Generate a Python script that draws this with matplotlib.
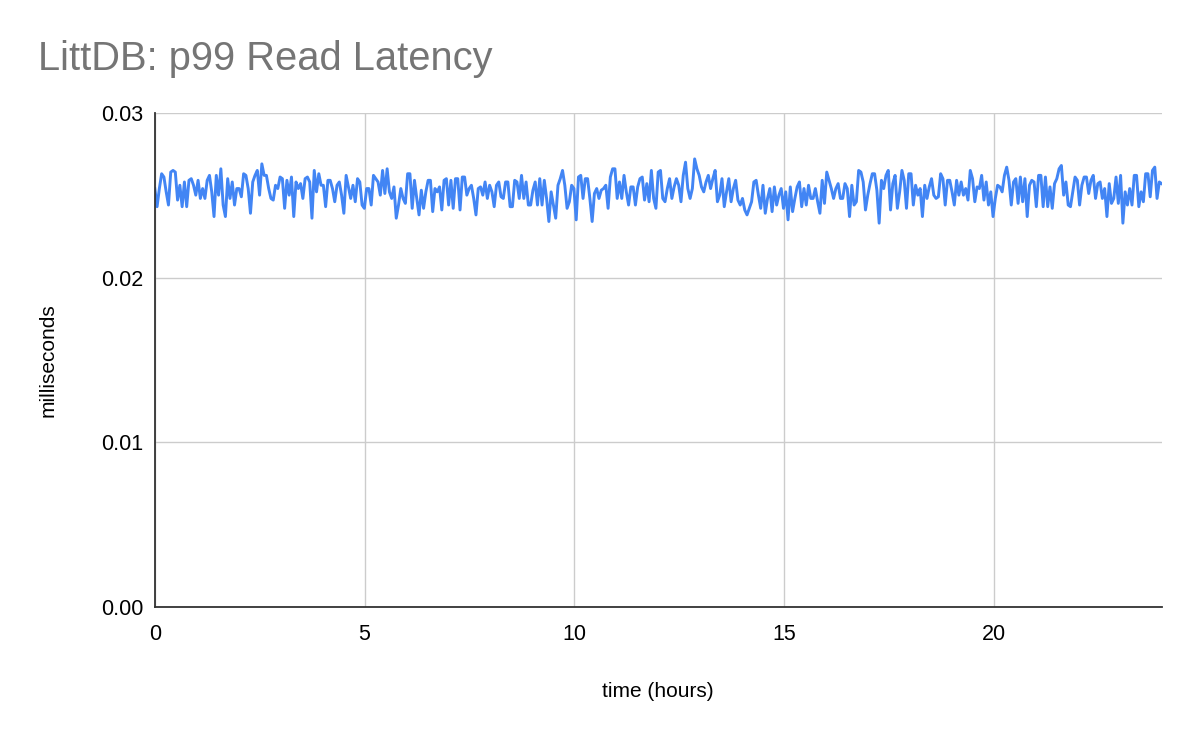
import numpy as np
import matplotlib.pyplot as plt
from matplotlib.ticker import FormatStrFormatter

# p99 read latency in microseconds left to right
lat_0_4h = [25.4, 24.3, 25.4, 26.3, 26.1, 25.2, 24.4, 26.4, 26.5, 26.4, 24.7, 25.6, 24.3, 25.8, 24.3,
            25.9, 26.0, 25.6, 25.0, 25.9, 24.8, 25.4, 24.8, 25.9, 26.2, 25.2, 23.7, 26.2, 25.0, 26.6,
            24.4, 23.7, 26.0, 24.8, 25.8, 24.4, 25.4, 25.4, 24.9, 26.3, 26.2, 25.4, 23.9, 25.8, 26.2,
            26.5, 25.0, 26.9, 26.2, 26.2, 25.4, 24.8, 24.7, 25.6, 25.4, 26.1, 26.0, 24.2, 25.9, 25.0,
            26.1, 23.7, 25.8, 25.4, 25.7, 24.8, 26.0, 26.1, 25.8, 23.6, 26.5, 25.2, 26.3, 25.6]
lat_4_8h = [25.6, 24.3, 25.9, 25.9, 25.4, 24.6, 25.6, 25.8, 25.0, 23.9, 26.2, 25.5, 24.8, 25.6, 24.6,
            26.0, 25.8, 24.4, 24.2, 25.4, 25.4, 24.4, 26.2, 26.0, 25.8, 25.0, 26.5, 25.1, 26.6, 25.2,
            24.8, 25.5, 23.6, 24.4, 25.4, 24.8, 24.5, 26.3, 26.3, 24.2, 25.9, 24.8, 23.8, 25.3, 24.2,
            25.2, 25.9, 25.9, 24.0, 25.4, 25.2, 25.5, 24.1, 25.9, 26.0, 24.4, 25.9, 24.2, 26.0, 26.0,
            24.1, 26.1, 26.1, 25.0, 25.4, 25.6, 24.8, 23.8, 25.4, 25.5, 25.0, 25.8, 24.8, 25.6]
lat_8_12h = [25.2, 24.3, 25.6, 25.8, 24.9, 24.8, 25.8, 25.8, 24.3, 24.3, 25.9, 25.8, 24.8, 26.2, 24.8,
             25.8, 24.4, 24.4, 25.3, 25.8, 24.4, 26.0, 24.4, 25.9, 24.8, 23.4, 25.2, 24.4, 23.6, 25.6,
             26.0, 26.5, 25.6, 24.2, 24.6, 25.6, 25.4, 23.5, 26.1, 26.2, 24.8, 26.0, 26.0, 24.8, 23.4,
             25.1, 25.4, 24.8, 25.3, 25.4, 25.6, 24.2, 26.1, 26.6, 26.6, 24.8, 25.8, 24.8, 26.2, 25.2,
             24.4, 25.5, 25.5, 24.4, 25.5, 26.0, 26.1, 24.7, 25.7, 24.6, 26.5, 24.8, 24.2, 26.4, 26.5,
             24.8]
lat_12_16h = [24.6, 25.4, 26.0, 24.8, 25.5, 26.0, 25.6, 24.6, 26.2, 27.0, 25.4, 24.8, 25.4, 27.2, 26.6,
              26.2, 25.5, 25.2, 25.8, 26.2, 25.4, 26.0, 26.5, 24.6, 25.0, 26.0, 24.3, 25.2, 26.0, 24.6,
              25.4, 25.9, 24.7, 24.4, 24.8, 24.1, 23.8, 24.2, 24.6, 25.8, 25.9, 25.0, 24.2, 25.6, 23.9,
              24.8, 25.4, 24.0, 25.5, 24.4, 25.0, 25.4, 24.2, 25.2, 23.5, 25.5, 24.0, 24.8, 25.5, 25.8,
              24.3, 25.4, 24.4, 25.6, 24.8, 24.8, 25.4, 24.6, 23.9, 25.9, 24.5, 26.4, 25.9, 25.4]
lat_16_20h = [24.8, 25.4, 25.7, 24.8, 24.8, 25.7, 25.4, 23.7, 25.6, 24.4, 24.6, 26.5, 26.4, 25.8, 24.1,
              25.0, 25.7, 26.3, 26.3, 25.3, 23.3, 25.9, 25.4, 26.2, 26.5, 24.1, 25.7, 26.2, 24.2, 25.2,
              26.5, 25.9, 24.2, 26.3, 26.3, 24.4, 25.6, 25.0, 25.4, 23.7, 25.6, 24.8, 25.5, 26.0, 25.0,
              24.8, 24.9, 26.3, 26.0, 24.4, 25.9, 25.9, 25.2, 24.4, 25.9, 25.0, 25.8, 25.0, 25.4, 24.7,
              26.5, 26.0, 24.6, 25.5, 25.4, 26.2, 24.7, 25.8, 24.4, 25.2, 23.7, 24.8, 25.6, 25.5, 25.2]
lat_20_24h = [26.2, 26.7, 25.9, 24.4, 25.8, 26.0, 24.5, 26.1, 24.6, 26.0, 23.7, 25.6, 25.9, 25.8, 24.3,
              26.2, 26.2, 24.3, 26.1, 24.3, 25.5, 24.2, 25.7, 26.0, 26.6, 26.8, 25.0, 25.8, 24.4, 24.3,
              25.2, 26.1, 25.9, 24.4, 25.6, 26.1, 26.1, 25.1, 25.9, 26.2, 24.8, 25.7, 25.8, 24.8, 25.4,
              23.7, 25.7, 24.5, 24.8, 26.1, 24.5, 26.2, 23.3, 25.2, 24.4, 25.4, 24.4, 26.2, 26.2, 24.3,
              25.2, 24.6, 26.3, 26.3, 24.9, 26.5, 26.7, 24.8, 25.8, 25.7]

x_ticks = [0, 5, 10, 15, 20]
y_ticks = [0.00, 0.01, 0.02, 0.03]

latency_ms = np.array(lat_0_4h + lat_4_8h + lat_8_12h + lat_12_16h + lat_16_20h + lat_20_24h) / 1000
hours = np.linspace(0, 24, len(latency_ms))

plt.rcParams['font.family'] = ['Liberation Sans', 'DejaVu Sans']

fig = plt.figure(figsize=(12, 7.42), dpi=100)
ax = fig.add_axes([0.129, 0.182, 0.839, 0.666])

ax.plot(hours, latency_ms, color='#4285F4', linewidth=2.1)

ax.set_xlim(0, 24)
ax.set_ylim(0, 0.03)
ax.set_xticks(x_ticks)
ax.set_yticks(y_ticks)
ax.yaxis.set_major_formatter(FormatStrFormatter('%.2f'))
ax.grid(True, color='#cccccc', linewidth=1)
ax.set_axisbelow(True)
ax.tick_params(axis='x', length=0, labelsize=15.5, pad=12)
ax.tick_params(axis='y', length=0, labelsize=15.5, pad=8)

for side in ['top', 'right']:
    ax.spines[side].set_visible(False)
for side in ['left', 'bottom']:
    ax.spines[side].set_color('#333333')
    ax.spines[side].set_linewidth(1.3)

ax.set_xlabel('time (hours)', fontsize=15)
ax.set_ylabel('milliseconds', fontsize=15)
ax.xaxis.set_label_coords(0.5, -0.152)
ax.yaxis.set_label_coords(-0.097, 0.5)

fig.text(0.032, 0.905, 'LittDB: p99 Read Latency', fontsize=28.7, color='#757575',
         va='baseline', ha='left')

fig.savefig('out.png', dpi=100)
